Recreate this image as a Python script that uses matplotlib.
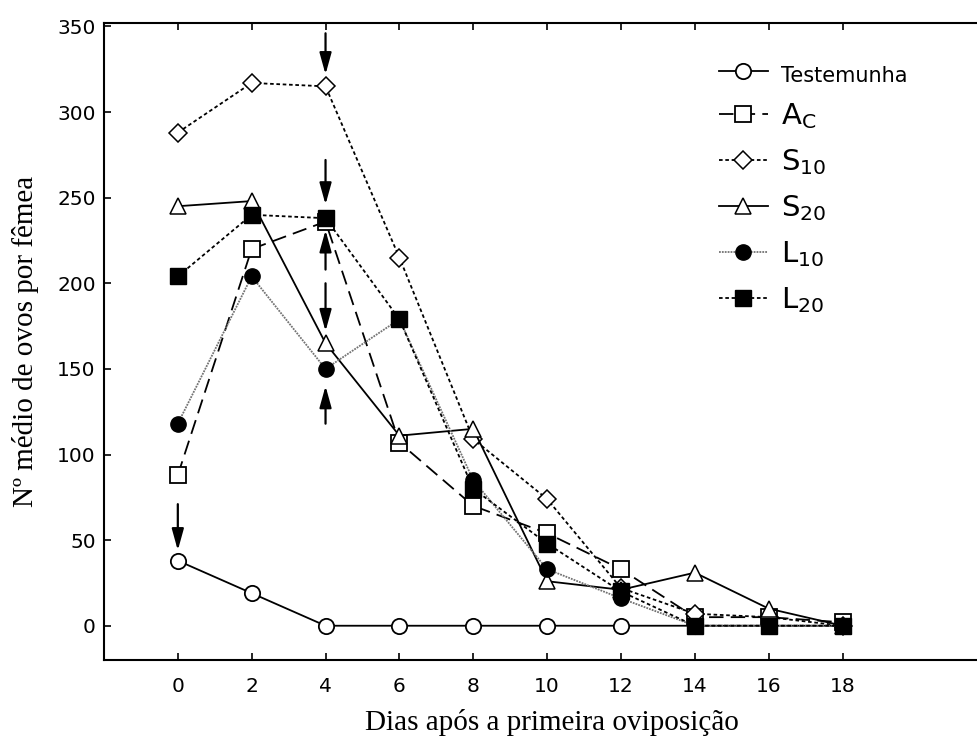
import matplotlib
matplotlib.use('Agg')
import matplotlib.pyplot as plt

plt.rcParams['font.family'] = 'DejaVu Sans'
plt.rcParams['mathtext.fontset'] = 'dejavusans'

dias = [0, 2, 4, 6, 8, 10, 12, 14, 16, 18]
testemunha = [38, 19, 0, 0, 0, 0, 0, 0, 0, 0]
a_c = [88, 220, 236, 107, 70, 54, 33, 5, 5, 2]
s10 = [288, 317, 315, 215, 109, 74, 22, 7, 5, 0]
s20 = [245, 248, 165, 111, 115, 26, 21, 31, 10, 0]
l10 = [118, 204, 150, 179, 85, 33, 16, 0, 0, 0]
l20 = [204, 240, 238, 179, 80, 48, 20, 0, 0, 0]

# setas: (x, inicio, fim)
setas = [(0, 71, 44), (4, 346, 322), (4, 272, 246), (4, 208, 231),
         (4, 200, 172), (4, 118, 140)]

fig = plt.figure(figsize=(9.78, 7.47), dpi=100)
ax = fig.add_axes([0.1063, 0.1165, 0.893, 0.8527])

ms = 11
ax.plot(dias, testemunha, color='k', lw=1.3, ls='-', marker='o', ms=ms,
        mfc='white', mec='k', mew=1.3, label='Testemunha')
ax.plot(dias, a_c, color='k', lw=1.3, ls=(0, (8, 4)), marker='s', ms=ms,
        mfc='white', mec='k', mew=1.3, label='A$_\\mathrm{C}$')
ax.plot(dias, s10, color='k', lw=1.3, ls=(0, (2, 1.5)), marker='D', ms=9,
        mfc='white', mec='k', mew=1.1, label='S$_{10}$')
ax.plot(dias, s20, color='k', lw=1.3, ls='-', marker='^', ms=12,
        mfc='white', mec='k', mew=1.1, label='S$_{20}$')
ax.plot(dias, l10, color='0.45', lw=1.3, ls=(0, (1, 0.6)), marker='o', ms=ms,
        mfc='k', mec='k', label='L$_{10}$')
ax.plot(dias, l20, color='k', lw=1.3, ls=(0, (2, 1.5)), marker='s', ms=ms,
        mfc='k', mec='k', label='L$_{20}$')

for x, y0, y1 in setas:
    ax.annotate('', xy=(x, y1), xytext=(x, y0), annotation_clip=False,
                arrowprops=dict(arrowstyle='-|>,head_length=0.65,head_width=0.18',
                                color='k', lw=1.6, mutation_scale=20,
                                shrinkA=0, shrinkB=0))

ax.set_xlim(-2, 21.65)
ax.set_ylim(-20, 352)
ax.set_xticks(dias)
ax.set_yticks(range(0, 351, 50))
ax.tick_params(direction='in', length=5, width=1.2, labelsize=14.5, pad=12,
               top=True)
ax.tick_params(axis='y', pad=6)
for s in ['left', 'bottom', 'top']:
    ax.spines[s].set_linewidth(1.5)
ax.spines['right'].set_visible(False)

ax.set_xlabel('Dias após a primeira oviposição', family='Liberation Serif',
              fontsize=21)
ax.xaxis.set_label_coords(0.513, -0.077)
ax.set_ylabel('Nº médio de ovos por fêmea', family='Liberation Serif',
              fontsize=21)
ax.yaxis.set_label_coords(-0.074, 0.5)

leg = ax.legend(loc='upper left', bbox_to_anchor=(0.704, 0.94), frameon=False,
                fontsize=21, handlelength=1.67, labelspacing=0.55,
                handletextpad=0.45, borderpad=0, borderaxespad=0)
leg.get_texts()[0].set_fontsize(15)

plt.savefig('out.png', dpi=100)
